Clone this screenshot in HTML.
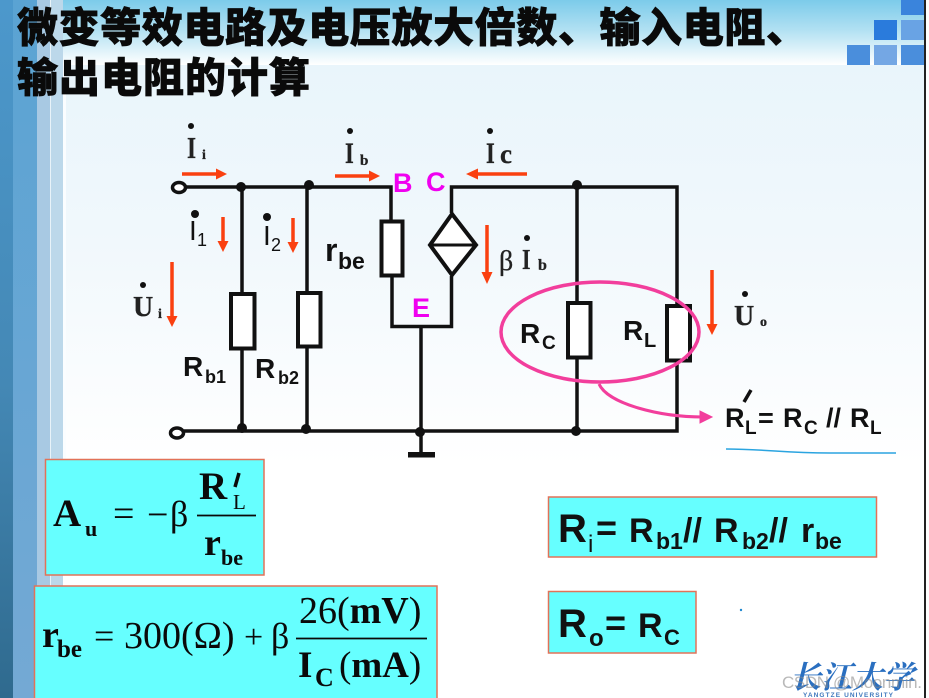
<!DOCTYPE html>
<html><head><meta charset="utf-8"><style>
html,body{margin:0;padding:0;background:#fff}
svg{display:block}
.s{font-family:"Liberation Serif",serif;font-weight:700}
.sr{font-family:"Liberation Serif",serif;font-weight:400}
.h{font-family:"Liberation Sans",sans-serif;font-weight:700;fill:#111}
.w{fill:none;stroke:#111;stroke-width:3.500}
.r{fill:#fff;stroke:#111;stroke-width:4}
.o{stroke:#fa4010;stroke-width:3.500;fill:none}
</style></head><body>
<svg width="929" height="698" viewBox="0 0 929 698" xmlns="http://www.w3.org/2000/svg">
<defs>
<linearGradient id="bg" x1="0" y1="0" x2="0" y2="1"><stop offset="0" stop-color="#e9f5fb"/><stop offset=".45" stop-color="#f1f8fc"/><stop offset="1" stop-color="#fff"/></linearGradient>
<linearGradient id="top" x1="0" y1="0" x2="0" y2="1"><stop offset="0" stop-color="#7ccbea"/><stop offset=".45" stop-color="#b0e0f2"/><stop offset="1" stop-color="#fff"/></linearGradient>
<linearGradient id="d" x1="0" y1="0" x2="0" y2="1"><stop offset="0" stop-color="#4c98cc"/><stop offset=".55" stop-color="#4488b5"/><stop offset="1" stop-color="#2f6a8e"/></linearGradient>
<linearGradient id="m" x1="0" y1="0" x2="0" y2="1"><stop offset="0" stop-color="#5aa3d3"/><stop offset="1" stop-color="#74a9d4"/></linearGradient>
</defs>
<rect width="929" height="698" fill="#fff"/>
<rect x="60" y="65" width="865" height="400" fill="url(#bg)"/>
<rect x="0" y="0" width="925" height="65" fill="url(#top)"/>
<rect x="0" y="0" width="13" height="698" fill="url(#d)"/>
<rect x="13" y="0" width="24" height="698" fill="url(#m)"/>
<rect x="37" y="0" width="14" height="698" fill="#a8c9e3"/>
<rect x="50" y="0" width="1" height="698" fill="#e8f3f9"/>
<rect x="51" y="0" width="12" height="698" fill="#bcd8ea"/>
<rect x="63" y="65" width="3" height="400" fill="#fafdff"/>
<rect x="924" y="0" width="2" height="698" fill="#222"/>
<rect x="926" y="0" width="3" height="698" fill="#fff"/>

<!-- corner squares -->
<rect x="901" y="0" width="23" height="15" fill="#3a84dc"/>
<rect x="874" y="20" width="23" height="20" fill="#2a7bdc"/>
<rect x="901" y="20" width="23" height="20" fill="#69a3e4"/>
<rect x="847" y="45" width="23" height="20" fill="#4a8edc"/>
<rect x="874" y="45" width="23" height="20" fill="#74a7e4"/>
<rect x="901" y="45" width="23" height="20" fill="#4a8edc"/>

<!-- title -->
<g font-size="41" fill="#0a0a0a" stroke="#0a0a0a" stroke-width="0.700" style="font-family:'Liberation Sans','Noto Sans CJK SC',sans-serif;font-weight:900">
<text x="17" y="42" textLength="790" lengthAdjust="spacing">微变等效电路及电压放大倍数、输入电阻、</text>
<text x="17" y="92" textLength="293" lengthAdjust="spacing">输出电阻的计算</text>
</g>

<!-- wires -->
<path class="w" d="M186 187H391V222M392 276V326.500H451.500V276M451.500 213V187H677V431H184M242 187V294M242 349V431M307 187V292M307 347V431M577 187V302M577 358V431M421 326V455"/>
<rect x="408" y="452" width="27" height="5.500" fill="#111"/>
<ellipse cx="179" cy="187.500" rx="6.500" ry="5" fill="#fff" stroke="#111" stroke-width="3.500"/>
<ellipse cx="177" cy="433" rx="6.500" ry="5" fill="#fff" stroke="#111" stroke-width="3.500"/>
<g fill="#111">
<circle cx="241" cy="187" r="5"/><circle cx="309" cy="185" r="5"/><circle cx="577" cy="185" r="5"/>
<circle cx="242" cy="428" r="5"/><circle cx="306" cy="429" r="5"/><circle cx="420" cy="432" r="5"/><circle cx="576" cy="431" r="5"/>
</g>
<rect class="r" x="231" y="294" width="23.500" height="54.500"/>
<rect class="r" x="298" y="293" width="22.500" height="53.500"/>
<rect class="r" x="381.500" y="221.500" width="21" height="54"/>
<rect class="r" x="568" y="303" width="22.500" height="54.500"/>
<rect class="r" x="667" y="306" width="23" height="54.500"/>
<path d="M452 214L476 245L452 275L430 245Z" fill="#fff" stroke="#111" stroke-width="4"/>
<path d="M430 245H476" stroke="#111" stroke-width="3"/>

<!-- pink -->
<ellipse cx="600" cy="332" rx="99" ry="50" fill="none" stroke="#f23e9c" stroke-width="3.500"/>
<path d="M599 384C608 404 660 417 703 417" fill="none" stroke="#f23e9c" stroke-width="3"/>
<path d="M712 417L700 411V423Z" fill="#f23e9c" stroke="#f23e9c"/>
<path d="M726 449C745 449 760 450 775 451S810 453 830 453H896" fill="none" stroke="#2aa4e0" stroke-width="1.500"/>

<!-- orange arrows -->
<g class="o"><path d="M182 174H218M335 176H371M527 174H476M223 217V243M293 218V245M172 262V316M487 225V272M712 270V325"/></g>
<g fill="#fa4010">
<path d="M227 174L216 168.500V179.500Z"/><path d="M380 176L369 170.500V181.500Z"/><path d="M466 174L478 168.500V179.500Z"/>
<path d="M223 252L217.500 241H228.500Z"/><path d="M293 253L287.500 242H298.500Z"/><path d="M172 327L166.500 316H177.500Z"/>
<path d="M487 284L481.500 272H492.500Z"/><path d="M712 335L706.500 324H717.500Z"/>
</g>

<!-- dots -->
<g fill="#111"><circle cx="191" cy="126" r="3"/><circle cx="350" cy="131" r="3"/><circle cx="490" cy="131" r="3"/><circle cx="195" cy="214" r="4"/><circle cx="267" cy="217" r="4"/><circle cx="143" cy="285" r="3"/><circle cx="527" cy="238" r="3"/><circle cx="745" cy="294" r="3"/></g>

<!-- serif labels -->
<g class="s" fill="#222" stroke="#222" stroke-width=".3">
<text x="187" y="158" font-size="31" transform="translate(187 0) scale(.75 1) translate(-187 0)">I</text><text x="202" y="159" font-size="14">i</text>
<text x="345" y="163" font-size="30" transform="translate(345 0) scale(.75 1) translate(-345 0)">I</text><text x="360" y="165" font-size="15">b</text>
<text x="486" y="163" font-size="30" transform="translate(486 0) scale(.75 1) translate(-486 0)">I</text><text x="500" y="163" font-size="27">c</text>
<text x="133" y="316" font-size="28">U</text><text x="158" y="318" font-size="14">i</text>
<text x="499" y="270" font-size="28" style="font-weight:400">β</text>
<text x="522" y="269" font-size="29" transform="translate(522 0) scale(.75 1) translate(-522 0)">I</text><text x="538" y="270" font-size="16">b</text>
<text x="734" y="325" font-size="28">U</text><text x="760" y="326" font-size="14">o</text>
</g>

<!-- sans labels -->
<g class="h">
<text x="189" y="240" font-size="28" style="font-weight:400">I</text><text x="197" y="246" font-size="18" style="font-weight:400">1</text>
<text x="263" y="245" font-size="28" style="font-weight:400">I</text><text x="271" y="251" font-size="18" style="font-weight:400">2</text>
<text x="325" y="261" font-size="32">r</text><text x="338" y="269" font-size="23">be</text>
<text x="183" y="376" font-size="28">R</text><text x="205" y="383" font-size="18">b1</text>
<text x="255" y="378" font-size="28">R</text><text x="278" y="384" font-size="18">b2</text>
<text x="520" y="343" font-size="28">R</text><text x="542" y="349" font-size="19">C</text>
<text x="623" y="340" font-size="28">R</text><text x="644" y="347" font-size="20">L</text>
<text x="725" y="427" font-size="27">R</text><text x="745" y="434" font-size="19">L</text>
<text x="758" y="427" font-size="27">=</text>
<text x="783" y="427" font-size="27">R</text><text x="804" y="434" font-size="19">C</text>
<text x="826" y="427" font-size="27">//</text>
<text x="850" y="427" font-size="27">R</text><text x="870" y="434" font-size="19">L</text>
</g>
<path d="M744 402L751 390" stroke="#111" stroke-width="3.500"/>
<g font-family="'Liberation Sans',sans-serif" font-weight="700" fill="#f000f0" font-size="27">
<text x="393" y="192">B</text><text x="426" y="191">C</text><text x="412" y="317">E</text>
</g>

<!-- boxes -->
<g fill="#66ffff" stroke="#e27258" stroke-width="1.500">
<rect x="45.500" y="459.500" width="218.500" height="115.500"/>
<rect x="34.500" y="586" width="402.500" height="113"/>
<rect x="548.500" y="497" width="328" height="60"/>
<rect x="548.500" y="591.500" width="147.500" height="61.500"/>
</g>

<!-- formulas -->
<g class="s" fill="#0a0a0a">
<text x="53" y="526" font-size="39">A</text><text x="85" y="536" font-size="22">u</text>
<text x="199" y="499" font-size="39">R</text><text x="233" y="509" font-size="21" style="font-weight:400">L</text>
<text x="204" y="555" font-size="38">r</text><text x="221" y="565" font-size="22">be</text>
<text x="42" y="647" font-size="38">r</text><text x="57" y="657" font-size="25">be</text>
<text x="299" y="623" font-size="38"><tspan style="font-weight:400">26(</tspan>mV<tspan style="font-weight:400">)</tspan></text>
<text x="298" y="677" font-size="37">I</text><text x="315" y="686" font-size="26">C</text>
<text x="339" y="677" font-size="37"><tspan style="font-weight:400">(</tspan>mA<tspan style="font-weight:400">)</tspan></text>
</g>
<g class="sr" fill="#0a0a0a">
<text x="113" y="526" font-size="38">=</text><text x="147" y="527" font-size="38">−</text><text x="170" y="526" font-size="36">β</text>
<text x="94" y="648" font-size="36">=</text><text x="124" y="648" font-size="38">300(Ω)</text>
<text x="244" y="648" font-size="34">+</text><text x="271" y="648" font-size="36">β</text>
</g>
<path d="M197 515.500H256M296 638.500H427" stroke="#0a0a0a" stroke-width="1.800"/>
<path d="M239 473L235 487" stroke="#0a0a0a" stroke-width="3.500"/>

<!-- Ri Ro -->
<g class="h">
<text x="558" y="542" font-size="40">R</text><text x="588" y="552" font-size="24" style="font-weight:400">i</text>
<text x="596" y="540" font-size="36">=</text>
<text x="629" y="542" font-size="34">R</text><text x="656" y="549" font-size="23">b1</text>
<text x="683" y="542" font-size="34">//</text>
<text x="714" y="542" font-size="34">R</text><text x="742" y="549" font-size="23">b2</text>
<text x="769" y="542" font-size="34">//</text>
<text x="801" y="542" font-size="34">r</text><text x="815" y="549" font-size="23">be</text>
<text x="558" y="637" font-size="40">R</text><text x="589" y="646" font-size="24">o</text>
<text x="605" y="635" font-size="36">=</text>
<text x="638" y="637" font-size="34">R</text><text x="664" y="645" font-size="22">C</text>
</g>

<!-- logo -->
<circle cx="741" cy="610" r="1.200" fill="#1e88d0"/>
<text x="790" y="688" font-family="'Liberation Serif','Noto Serif CJK SC',serif" font-weight="700" font-size="31" fill="#2a6fc0" font-style="italic" textLength="124" lengthAdjust="spacing">长江大学</text>
<text x="803" y="697" font-family="'Liberation Sans',sans-serif" font-size="6.500" font-weight="700" fill="#3f78bd" textLength="90">YANGTZE  UNIVERSITY</text>
<text x="782" y="688" font-family="'Liberation Sans',sans-serif" font-size="17" fill="#8a8a8a" fill-opacity=".6" textLength="140">CSDN @Moonmin.</text>
</svg>
</body></html>
